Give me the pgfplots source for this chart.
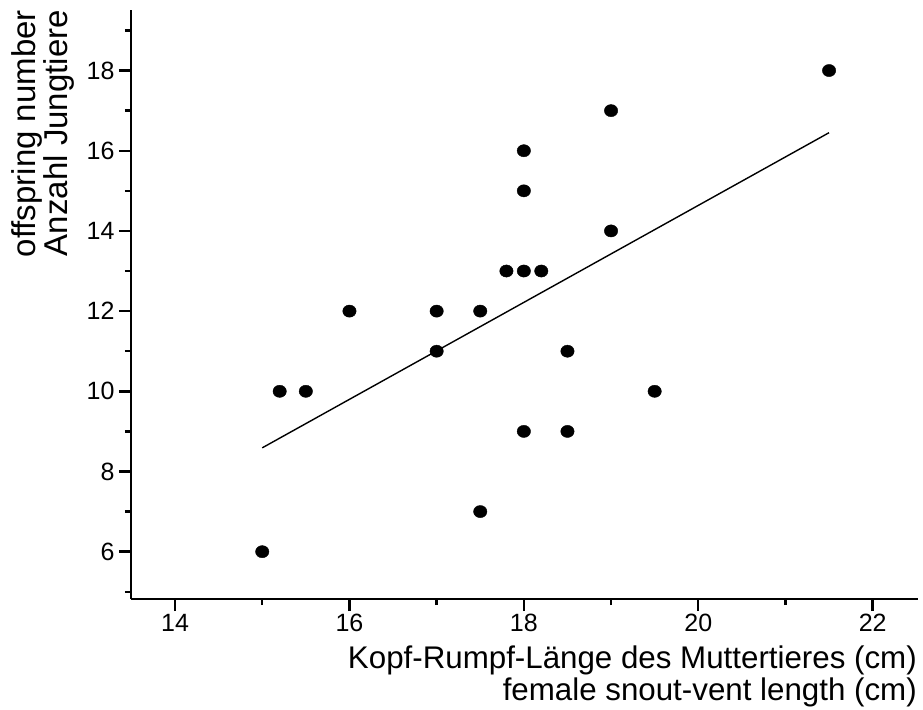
\documentclass[border=0pt]{standalone}
\usepackage{fontspec}
\setmainfont{Liberation Sans}
\usepackage{pgfplots}
\pgfplotsset{compat=1.18}
\begin{document}
\begin{tikzpicture}[x=1pt,y=1pt]
\begin{axis}[
  at={(0,0)}, anchor=south west,
  scale only axis, width=787pt, height=589pt,
  xmin=13.495, xmax=22.52, ymin=4.82, ymax=19.51,
  axis lines=left, axis line style={-, line width=2.4pt, black},
  xtick={14,16,18,20,22}, ytick={6,8,10,12,14,16,18},
  minor xtick={15,17,19,21}, minor ytick={5,7,9,11,13,15,17,19},
  tick align=outside, major tick length=12pt, minor tick length=6pt,
  every tick/.style={line width=2.4pt, black},
  minor tick style={line width=2.4pt, black},
  major tick style={line width=2.4pt, black},
  ticklabel style={font=\fontsize{25}{30}\selectfont},
  yticklabel style={xshift=-1pt},
  /pgf/number format/assume math mode=true,
  clip=false,
]
\addplot[only marks, mark=*, mark size=6.1pt, mark options={xscale=1.1, fill=black, draw=black}] coordinates {
 (15,6) (15.2,10) (15.5,10) (16,12) (17,12) (17,11) (17.5,12) (17.5,7)
 (17.8,13) (18,13) (18.2,13) (18,16) (18,15) (18,9) (18.5,11) (18.5,9)
 (19,17) (19,14) (19.5,10) (21.5,18)
};
\addplot[black, line width=1.4pt] coordinates {(15,8.59) (21.5,16.45)};
\end{axis}
\begin{scope}[font=\fontsize{33}{34}\selectfont]
\node[rotate=90, anchor=base east, inner sep=0pt] at (-95,589) {offspring number};
\node[rotate=90, anchor=base east, inner sep=0pt] at (-63,589) {Anzahl Jungtiere};
\end{scope}
\begin{scope}[font=\fontsize{31.3}{34}\selectfont]
\node[anchor=base east, inner sep=0pt] at (786,-69) {Kopf-Rumpf-Länge des Muttertieres (cm)};
\node[anchor=base east, inner sep=0pt] at (786,-101) {female snout-vent length (cm)};
\end{scope}
\pgfresetboundingbox
\useasboundingbox (-131,-110) rectangle (792,599);
\end{tikzpicture}
\end{document}
